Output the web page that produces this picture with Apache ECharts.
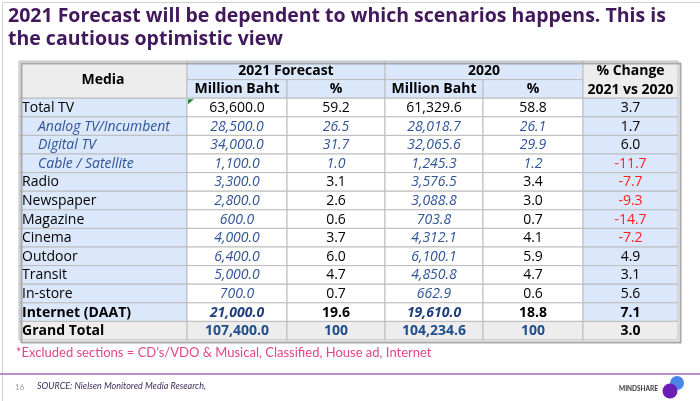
<!DOCTYPE html>
<html>
<head>
<meta charset="utf-8">
<script src="https://cdn.jsdelivr.net/npm/echarts@6/dist/echarts.min.js"></script>
<style>
  html, body { margin: 0; padding: 0; background: #fff; }
  #main { width: 700px; height: 401px; }
</style>
</head>
<body>
<div id="main"></div>
<script>
const rowLabels = ['Total TV', 'Analog TV/Incumbent', 'Digital TV', 'Cable / Satellite', 'Radio', 'Newspaper',
  'Magazine', 'Cinema', 'Outdoor', 'Transit', 'In-store', 'Internet (DAAT)', 'Grand Total'];
const tvSubRows = ['Analog TV/Incumbent', 'Digital TV', 'Cable / Satellite'];
const forecastBaht = [63600.0, 28500.0, 34000.0, 1100.0, 3300.0, 2800.0, 600.0, 4000.0, 6400.0, 5000.0, 700.0, 21000.0, 107400.0];
const forecastShare = [59.2, 26.5, 31.7, 1.0, 3.1, 2.6, 0.6, 3.7, 6.0, 4.7, 0.7, 19.6, 100];
const baht2020 = [61329.6, 28018.7, 32065.6, 1245.3, 3576.5, 3088.8, 703.8, 4312.1, 6100.1, 4850.8, 662.9, 19610.0, 104234.6];
const share2020 = [58.8, 26.1, 29.9, 1.2, 3.4, 3.0, 0.7, 4.1, 5.9, 4.7, 0.6, 18.8, 100];
const changePct = [3.7, 1.7, 6.0, -11.7, -7.7, -9.3, -14.7, -7.2, 4.9, 3.1, 5.6, 7.1, 3.0];
const groupHeaders = ['2021 Forecast', '2020'];
const subHeaders = ['Million Baht', '%'];
const mediaHeader = 'Media';
const changeHeader = '% Change\n2021 vs 2020';

// column edges in axis units (widths of the table columns)
const colEdges = [0, 168, 268, 366, 464, 564, 659];
const headerRows = 2;

const FONT = '"Open Sans"';
const GRAY = '#ededed';
const BLUE_BG = '#dbe7fa';
const BLUE_TXT = '#2f5597';
const DARK_BLUE = '#1f4e8c';
const RED = '#ff1f1f';

const fmtBaht = v => v.toLocaleString('en-US', { minimumFractionDigits: 1, maximumFractionDigits: 1 });
const fmtShare = v => v === 100 ? '100' : v.toFixed(1);

function rowKind(label) {
  if (label === 'Total TV') return 'total';
  if (label === 'Grand Total') return 'grand';
  if (label === 'Internet (DAAT)') return 'bold';
  if (tvSubRows.indexOf(label) >= 0) return 'sub';
  return 'normal';
}

const cells = [];
function addCell(c0, c1, r0, r1, text, bg, color, weight, italic, align, pad) {
  cells.push({ c0, c1, r0, r1, text, bg, color, weight, italic, align: align || 'center', pad: pad || 0 });
}

// header
addCell(0, 1, 0, 2, mediaHeader, GRAY, '#000', 'bold', false);
groupHeaders.forEach((g, i) => {
  addCell(1 + i * 2, 3 + i * 2, 0, 1, g, BLUE_BG, '#000', 'bold', false);
  subHeaders.forEach((s, j) => addCell(1 + i * 2 + j, 2 + i * 2 + j, 1, 2, s, BLUE_BG, '#000', 'bold', false));
});
addCell(5, 6, 0, 2, changeHeader, GRAY, '#000', 'bold', false);

// body
rowLabels.forEach((label, i) => {
  const r = headerRows + i;
  const kind = rowKind(label);
  const grand = kind === 'grand';
  const bold = grand || kind === 'bold' ? 'bold' : 'normal';
  const rowBg = grand ? GRAY : '#fff';
  const sub = kind === 'sub';

  addCell(0, 1, r, r + 1, label, grand ? GRAY : BLUE_BG, sub ? BLUE_TXT : '#000', bold, sub, 'left', sub ? 19 : 3);

  const vals = [fmtBaht(forecastBaht[i]), fmtShare(forecastShare[i]), fmtBaht(baht2020[i]), fmtShare(share2020[i])];
  vals.forEach((t, j) => {
    const isBaht = j % 2 === 0;
    let color = '#000', italic = false;
    if (grand) { color = DARK_BLUE; }
    else if (kind === 'total') { color = '#000'; }
    else if (sub || isBaht) { color = BLUE_TXT; italic = true; }
    if (kind === 'bold' && isBaht) color = '#1f3f7a';
    addCell(1 + j, 2 + j, r, r + 1, t, rowBg, color, bold, italic);
  });

  const ch = changePct[i];
  addCell(5, 6, r, r + 1, ch.toFixed(1), grand ? GRAY : BLUE_BG, ch < 0 ? RED : '#000', bold, false);
});

const totalRows = headerRows + rowLabels.length;

const chart = echarts.init(document.getElementById('main'), null, { renderer: 'canvas' });

chart.setOption({
  animation: false,
  backgroundColor: '#fff',
  grid: { left: 19, top: 61, width: 659, height: 279, show: false },
  xAxis: { type: 'value', min: 0, max: colEdges[colEdges.length - 1], show: false },
  yAxis: { type: 'value', min: 0, max: totalRows, inverse: true, show: false },
  series: [{
    type: 'custom',
    clip: false,
    encode: { x: [0, 1], y: [2, 3] },
    data: cells.map(c => [colEdges[c.c0], colEdges[c.c1], c.r0, c.r1]),
    renderItem: function (params, api) {
      const c = cells[params.dataIndex];
      const p0 = api.coord([api.value(0), api.value(2)]);
      const p1 = api.coord([api.value(1), api.value(3)]);
      const w = p1[0] - p0[0];
      const h = p1[1] - p0[1];
      const font = (c.italic ? 'italic ' : '') + c.weight + ' 14px ' + FONT;
      const tx = c.align === 'left' ? p0[0] + c.pad : p0[0] + w / 2;
      const children = [
        { type: 'rect', shape: { x: p0[0], y: p0[1], width: w, height: h },
          style: { fill: c.bg, stroke: '#bcbcbc', lineWidth: 1 } },
        { type: 'text', style: { text: c.text, x: tx, y: p0[1] + h / 2 + 0.5, align: c.align,
          verticalAlign: 'middle', font: font, fill: c.color, lineHeight: 19 } }
      ];
      // Excel comment marker on the first forecast value
      if (c.c0 === 1 && c.r0 === headerRows) {
        children.push({ type: 'polygon', shape: { points: [[p0[0] + 1, p0[1] + 1], [p0[0] + 7, p0[1] + 1], [p0[0] + 1, p0[1] + 6]] },
          style: { fill: '#1f8a3b' } });
      }
      return { type: 'group', children: children };
    }
  }],
  graphic: [
    { type: 'rect', left: 0, top: 0, shape: { width: 699, height: 400 }, style: { fill: 'none', stroke: '#d0d0d0', lineWidth: 1 }, z: -1 },
    { type: 'rect', left: 19, top: 61, shape: { width: 659, height: 279 }, style: { fill: 'none', stroke: '#a9a9a9', lineWidth: 2 }, z: 100 },
    { type: 'text', left: 8, top: 5, style: {
        text: '2021 Forecast will be dependent to which scenarios happens. This is\nthe cautious optimistic view',
        font: 'bold 19.5px "Open Sans"', fill: '#41185c', lineHeight: 23 } },
    { type: 'text', left: 16, top: 346, style: {
        text: '*Excluded sections = CD\u2019s/VDO & Musical, Classified, House ad, Internet',
        font: '13px Lato', fill: '#e0468a' } },
    { type: 'rect', left: 0, top: 373, shape: { width: 700, height: 2 }, style: { fill: '#b98ccb' } },
    { type: 'text', left: 15, top: 383, style: { text: '16', font: '8px Lato', fill: '#9a9a9a' } },
    { type: 'text', left: 37, top: 382, style: { text: 'SOURCE: Nielsen Monitored Media Research,', font: 'italic 9px Lato', fill: '#3d2f5c' } },
    { type: 'text', left: 619, top: 385, style: { text: 'MINDSHARE', font: 'bold 6.5px Lato', fill: '#333' } },
    { type: 'circle', shape: { cx: 677, cy: 383, r: 7 }, style: { fill: '#4a86e8' } },
    { type: 'circle', shape: { cx: 670, cy: 391, r: 7.5 }, style: { fill: '#6a1eb5' } }
  ]
});
</script>
</body>
</html>
